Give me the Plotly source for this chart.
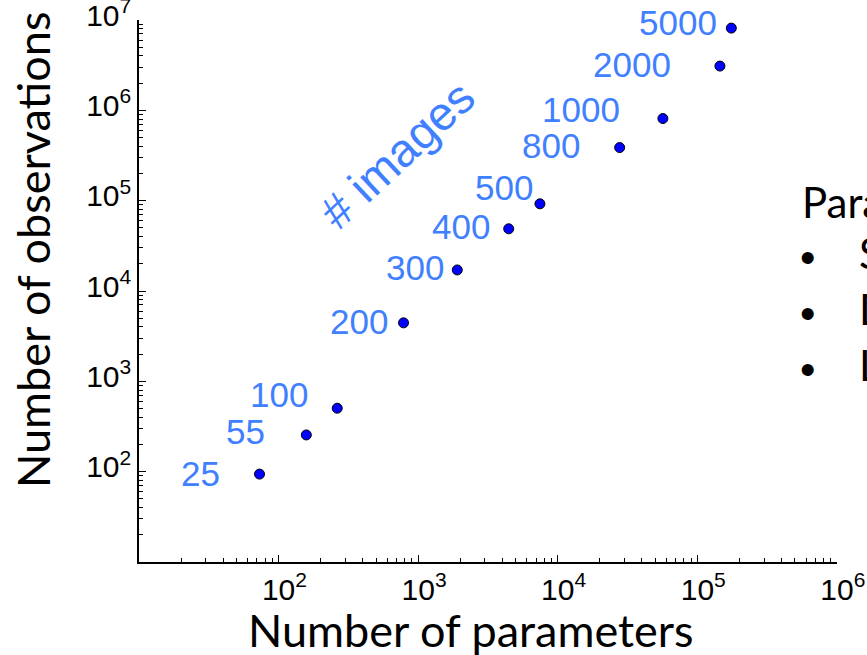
import plotly.graph_objects as go
import numpy as np

# ---- data ----
image_counts = ["25", "55", "100", "200", "300", "400", "500", "800", "1000", "2000", "5000"]
n_parameters = [73, 158, 263, 785, 1905, 4450, 7450, 27750, 56600, 145000, 175000]
n_observations = [94, 255, 504, 4440, 17100, 48800, 92300, 387000, 811000, 3090000, 8130000]

x_tick_vals = [1e2, 1e3, 1e4, 1e5, 1e6]
x_exponents = ["2", "3", "4", "5", "6"]
y_tick_vals = [1e2, 1e3, 1e4, 1e5, 1e6, 1e7]
y_exponents = ["2", "3", "4", "5", "6", "7"]

legend_title = "Parameters"
legend_items = ["SIFT features", "Descriptor size", "Layers"]

# label offsets (pixels) of the "# images" labels relative to their points
label_dx = [-38, -39, -27, -14, -11, -17, -5, -38, -41, -47, -12]
label_dy = [1, 3, 14, 1, 2, 2, 16, 2, 9, 2, 6]

LABEL_BLUE = "#4080FF"
TITLE_FONT = "Lato"
TICK_FONT = "Liberation Sans, Arial"

W, H = 867, 655
ml, mr, mt, mb = 139, 30, 20, 93


def px(x, y):
    return dict(x=(x - ml) / (W - ml - mr), y=(H - mb - y) / (H - mt - mb))


# x labels: "10" centred on the tick, exponent hanging to the right
x_tick_text = ["<span style='color:rgba(0,0,0,0)'><sup>%s</sup></span>10<sup>%s</sup>" % (e, e)
               for e in x_exponents]
y_tick_text = ["10<sup>%s</sup>" % e for e in y_exponents]

fig = go.Figure()
fig.add_trace(go.Scatter(
    x=n_parameters, y=n_observations, mode="markers",
    marker=dict(size=10, color="#0000FF", line=dict(color="black", width=1)),
    showlegend=False, hoverinfo="x+y",
))

for lab, xv, yv, dx, dy in zip(image_counts, n_parameters, n_observations, label_dx, label_dy):
    fig.add_annotation(x=np.log10(xv), y=np.log10(yv), xref="x", yref="y",
                       text=lab, showarrow=False, xanchor="right", yanchor="middle",
                       xshift=dx, yshift=dy,
                       font=dict(family=TICK_FONT, size=35, color=LABEL_BLUE))

fig.add_annotation(**px(397, 155), xref="paper", yref="paper", text="# images",
                   showarrow=False, textangle=-43, xanchor="center", yanchor="middle",
                   font=dict(family=TICK_FONT, size=47, color=LABEL_BLUE))

minor_vals = [m * 10 ** e for e in range(1, 7) for m in range(2, 10)]

axis_common = dict(
    type="log", showgrid=False, zeroline=False, showline=True,
    linecolor="black", linewidth=1.5, ticks="inside", ticklen=7,
    tickwidth=1.2, tickcolor="black", automargin=False,
    ticklabeloverflow="allow",
    tickfont=dict(family=TICK_FONT, size=30, color="black"), mirror=False,
)

fig.update_xaxes(range=[1, 6], tickvals=x_tick_vals, ticktext=x_tick_text,
                 minor=dict(tickvals=minor_vals, ticks="inside", ticklen=4,
                            tickwidth=1, tickcolor="black"),
                 **axis_common)
fig.update_yaxes(range=[1, 7], tickvals=y_tick_vals, ticktext=y_tick_text,
                 ticklabelshift=-5,
                 minor=dict(tickvals=minor_vals, ticks="inside", ticklen=4,
                            tickwidth=1, tickcolor="black"),
                 **axis_common)

# axis titles
fig.add_annotation(**px(471, 630), xref="paper", yref="paper", text="Number of parameters",
                   showarrow=False, xanchor="center", yanchor="middle",
                   font=dict(family=TITLE_FONT, size=45, color="black"))
fig.add_annotation(**px(33, 250), xref="paper", yref="paper", text="Number of observations",
                   showarrow=False, xanchor="center", yanchor="middle", textangle=-90,
                   font=dict(family=TITLE_FONT, size=45, color="black"))

# partially visible legend text on the right
fig.add_annotation(**px(800, 202), xref="paper", yref="paper", text=legend_title,
                   showarrow=False, xanchor="left", yanchor="middle",
                   font=dict(family=TITLE_FONT, size=42, color="black"))
for i, item in enumerate(legend_items):
    yy = 258 + i * 56
    fig.add_annotation(**px(807, yy - 1), xref="paper", yref="paper", text="•",
                       showarrow=False, xanchor="center", yanchor="middle",
                       font=dict(family="Liberation Sans", size=44, color="black"))
    fig.add_annotation(**px(857, yy - 5), xref="paper", yref="paper", text=item,
                       showarrow=False, xanchor="left", yanchor="middle",
                       font=dict(family=TITLE_FONT, size=42, color="black"))

fig.update_layout(
    width=W, height=H, margin=dict(l=ml, r=mr, t=mt, b=mb),
    plot_bgcolor="white", paper_bgcolor="white", showlegend=False,
)

fig.write_html("out.html")
